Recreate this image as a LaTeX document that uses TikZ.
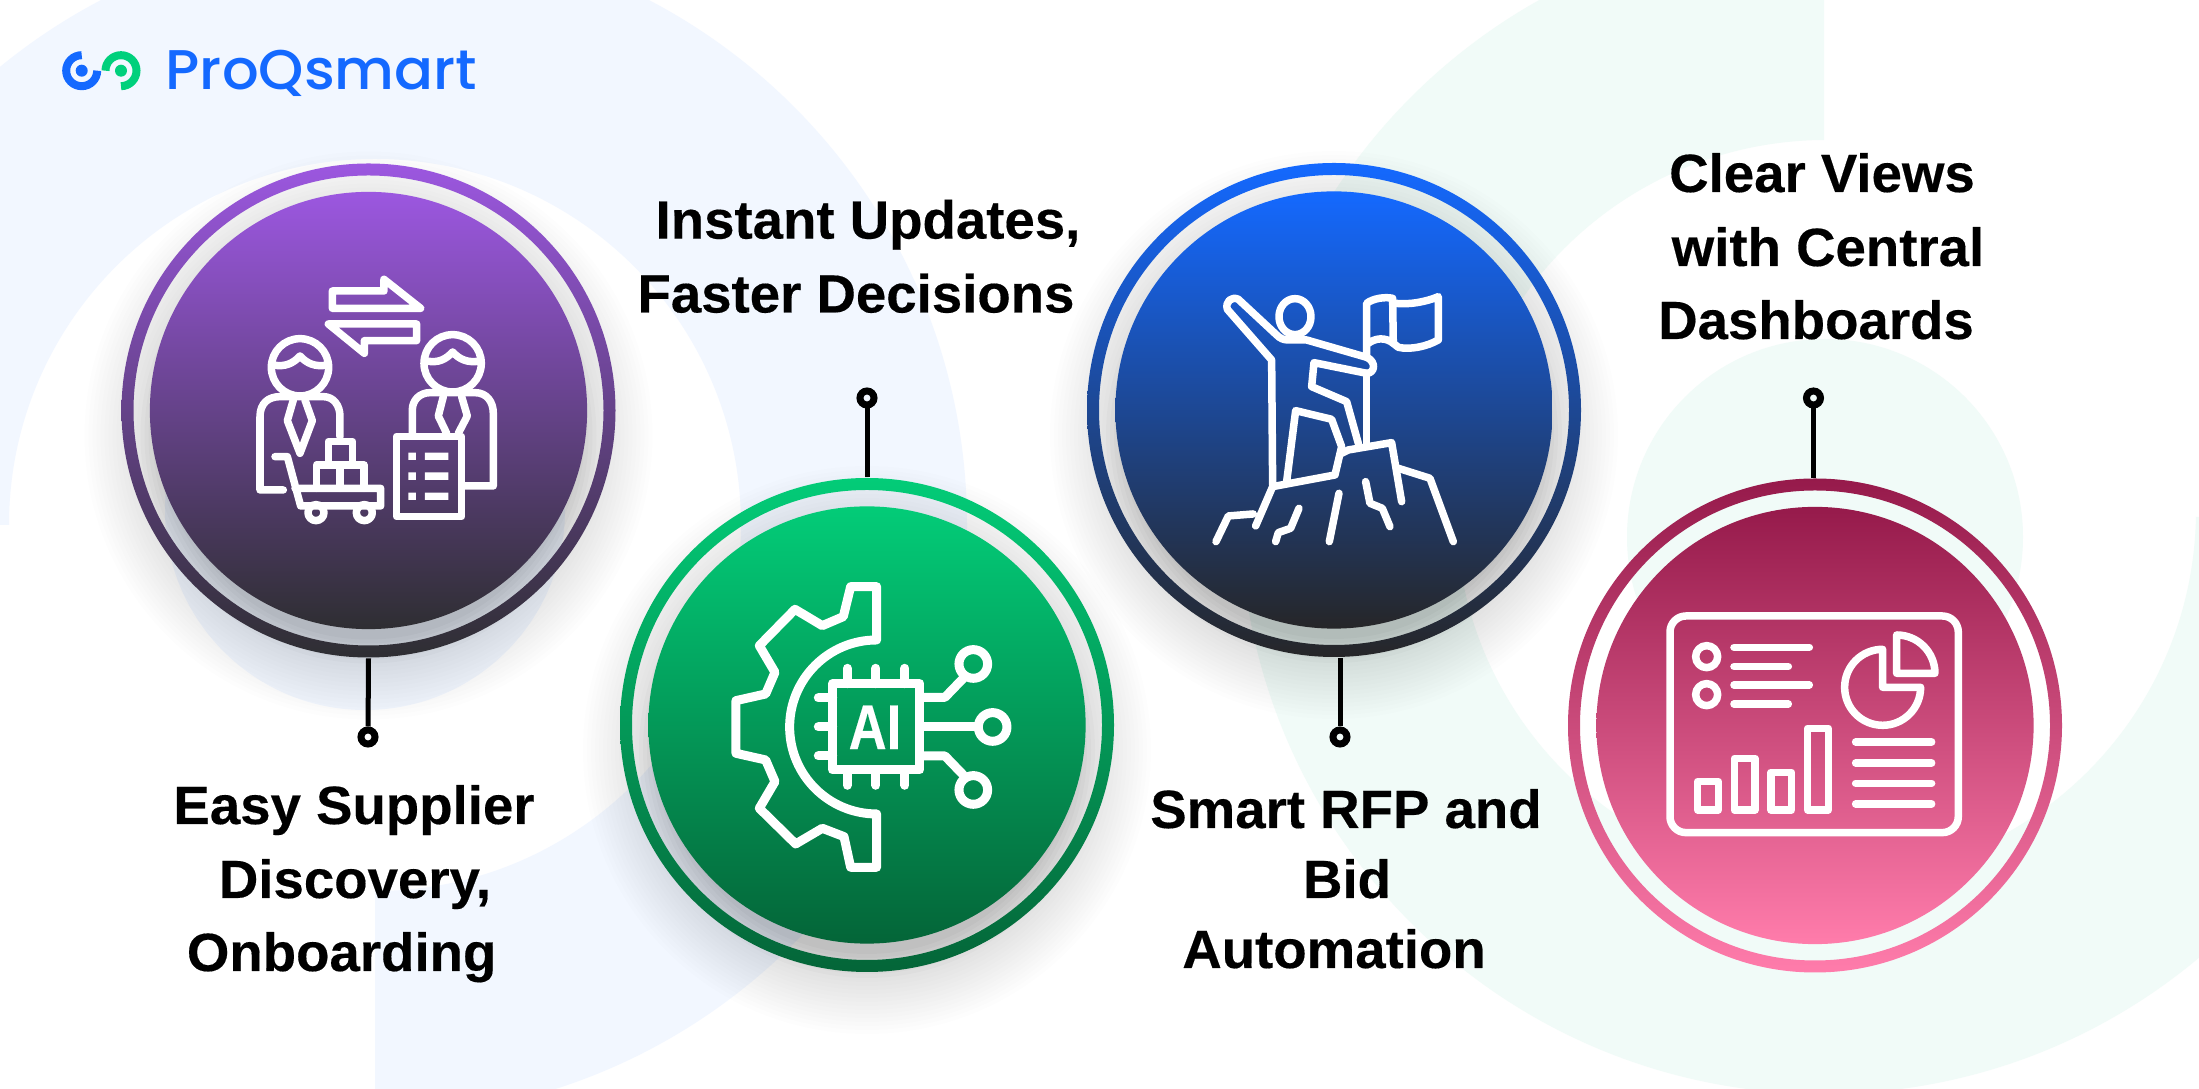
\documentclass[tikz,border=0pt]{standalone}
\usepackage{fontspec}
\setmainfont[BoldFeatures={FakeStretch=1.015,FakeBold=0.3}]{Liberation Sans}
\newfontfamily\logofont[FakeStretch=1.03]{Poppins Medium}
\begin{document}
\begin{tikzpicture}[x=0.01cm,y=-0.01cm]
    \definecolor{paleblue}{HTML}{F2F7FF}
    \definecolor{palegreen}{HTML}{F1FBF8}
    \definecolor{logoblue}{HTML}{1469FF}
    \definecolor{logogreen}{HTML}{00D07C}
    \tikzstyle{badge}=[circle,inner sep=0pt,minimum size=4.94cm]
    \tikzstyle{disc}=[circle,inner sep=0pt,minimum size=4.37cm]
    \tikzstyle{pin}=[circle,draw=black,line width=0.07cm,inner sep=0pt,minimum size=0.14cm]
    \tikzstyle{stem}=[black,line width=0.05cm]
    \tikzstyle{label}=[anchor=base,inner sep=0pt,font=\bfseries\fontsize{15.3}{18}\selectfont]
    \tikzstyle{icon}=[draw=white,line width=0.075cm,line join=round,line cap=round]
    \tikzstyle{iconfill}=[fill=white]
    \useasboundingbox (0,0) rectangle (2199,1089);
    \fill[white] (0,0) rectangle (2199,1089);
    % background rings
    \begin{scope}
      \clip (0,0) rectangle (2199,1089);
      \begin{scope}
        \clip (-300,-300) -- (1100,-300) -- (1100,1200) -- (375,1200) -- (375,525) -- (-300,525) -- cycle;
        \fill[paleblue,even odd rule] (375,525) circle (592) (375,525) circle (366);
      \end{scope}
      \fill[paleblue] (365,510) circle (200);
      \begin{scope}
        \clip (1100,-300) -- (1824,-300) -- (1824,517) -- (2500,517) -- (2500,1200) -- (1100,1200) -- cycle;
        \fill[palegreen,even odd rule] (1824,510) circle (584) (1826,510) circle (370);
      \end{scope}
      \fill[palegreen] (1825,537) circle (198);
    \end{scope}
    % shadows
    \foreach \cx/\cy in {368.5/410.5,867/725,1334/410}{
      \foreach \r in {204,208,...,228}{
        \fill[black,opacity=0.02] (\cx,\cy+25) circle (\r);
      }
      \foreach \r in {232,236,...,284}{
        \fill[black,opacity=0.008] (\cx,\cy+25) circle (\r);
      }
    }
    % circles
    \node[badge] (c1) at (368.5,410.5) {};
    \node[badge] (c2) at (867,725) {};
    \node[badge] (c3) at (1334,410) {};
    \node[badge] (c4) at (1815,725.5) {};
    \path[even odd rule,top color={rgb,255:red,156;green,87;blue,224},bottom color={rgb,255:red,46;green,46;blue,50}] (c1.center) circle (247) (c1.center) circle (235);
    \path[even odd rule,top color={rgb,255:red,3;green,204;blue,120},bottom color={rgb,255:red,4;green,101;blue,56}] (c2.center) circle (247) (c2.center) circle (235);
    \path[even odd rule,top color={rgb,255:red,20;green,105;blue,255},bottom color={rgb,255:red,38;green,38;blue,40}] (c3.center) circle (247) (c3.center) circle (235);
    \path[even odd rule,top color={rgb,255:red,150;green,26;blue,75},bottom color={rgb,255:red,255;green,124;blue,171}] (c4.center) circle (247) (c4.center) circle (235);
    \node[disc,top color={rgb,255:red,156;green,87;blue,224},bottom color={rgb,255:red,46;green,46;blue,50}] (d1) at (c1) {};
    \node[disc,top color={rgb,255:red,3;green,204;blue,120},bottom color={rgb,255:red,4;green,101;blue,56}] (d2) at (c2) {};
    \node[disc,top color={rgb,255:red,20;green,105;blue,255},bottom color={rgb,255:red,38;green,38;blue,40}] (d3) at (c3) {};
    \node[disc,top color={rgb,255:red,150;green,26;blue,75},bottom color={rgb,255:red,255;green,124;blue,171}] (d4) at (c4) {};
    % pins and stems
    \node[pin] (p1) at (368,737) {};
    \node[pin] (p2) at (867,398) {};
    \node[pin] (p3) at (1340,737) {};
    \node[pin] (p4) at (1813.5,398) {};
    \draw[stem] (c1.south) -- (p1);
    \draw[stem] (c2.north) -- (p2);
    \draw[stem] (c3.south -| p3) -- (p3);
    \draw[stem] (c4.north -| p4) -- (p4);
    % suppliers icon
    \begin{scope}[shift={(230,260)},scale=0.3333]
      \draw[icon] (307,93) -- (462,93) -- (462,58) -- (572,145) -- (307,145) -- cycle;
      \draw[icon] (560,192) -- (295,192) -- (403,280) -- (403,242) -- (560,242) -- cycle;
      \draw[icon] (210,322) circle (86);
      \draw[icon] (130,315) .. controls (165,322) and (190,310) .. (210,288) .. controls (230,310) and (255,322) .. (292,315);
      \draw[icon] (160,690) -- (90,690) -- (90,470) .. controls (90,430) and (115,410) .. (150,410) -- (280,410) .. controls (310,410) and (330,435) .. (330,470) -- (330,530);
      \draw[icon] (190,420) -- (172,482) -- (210,580) -- (247,482) -- (225,420);
      \draw[icon] (668,310) circle (86);
      \draw[icon] (590,303) .. controls (625,310) and (648,298) .. (668,276) .. controls (688,298) and (713,310) .. (750,303);
      \draw[icon] (547,520) -- (547,450) .. controls (547,420) and (570,398) .. (600,398) -- (735,398) .. controls (770,398) and (790,425) .. (790,460) -- (790,678) -- (700,678);
      \draw[icon] (640,410) -- (625,468) -- (650,520);
      \draw[icon] (695,410) -- (712,468) -- (685,520);
      \draw[icon] (500,529) rectangle (695,770);
      \fill[iconfill] (535,578) rectangle (558,600) (585,578) rectangle (655,600);
      \fill[iconfill] (535,637) rectangle (558,660) (585,637) rectangle (655,660);
      \fill[iconfill] (535,698) rectangle (558,720) (585,698) rectangle (655,720);
      \draw[icon] (135,590) -- (172,590) -- (212,738) -- (452,738) -- (452,685) -- (195,685);
      \draw[icon] (258,758) circle (24);
      \draw[icon] (403,758) circle (24);
      \draw[icon] (260,685) -- (260,615) -- (402,615) -- (402,685);
      \draw[icon] (330,615) -- (330,685);
      \draw[icon] (295,615) -- (295,545) -- (368,545) -- (368,615);
    \end{scope}
    % ai icon
    \begin{scope}[shift={(620,470)},scale=0.3333]
      \tikzstyle{icon}=[draw=white,line width=0.09cm,line join=round,line cap=round]
      \draw[icon] (770,350) -- (692,350) -- (670,440) -- (607,467) -- (525,418) -- (418,527) -- (465,607) -- (437,672) -- (348,692) -- (348,850) -- (437,870) -- (465,935) -- (418,1015) -- (527,1122) -- (607,1075) -- (672,1100) -- (692,1192) -- (770,1192) -- (770,1032) arc[start angle=90,end angle=270,radius=261] -- cycle;
      \draw[icon] (638,641) rectangle (900,900);
      \foreach \px in {682,768,855}{
        \draw[icon] (\px,595) -- (\px,641);
        \draw[icon] (\px,900) -- (\px,946);
      }
      \foreach \py in {684,771,858}{
        \draw[icon] (595,\py) -- (638,\py);
      }
      \draw[icon] (900,682) -- (975,682) -- (1030,625);
      \draw[icon] (1060,582) circle (43);
      \draw[icon] (900,771) -- (1075,771);
      \draw[icon] (1118,771) circle (43);
      \draw[icon] (900,858) -- (975,858) -- (1030,915);
      \draw[icon] (1060,960) circle (43);
      \node[white,inner sep=0pt,font=\bfseries\fontsize{18}{20}\selectfont] (ai) at (765,772) {\scalebox{0.82}[1]{AI}};
    \end{scope}
    % summit icon
    \begin{scope}[shift={(1090,160)},scale=0.3333]
      \draw[icon] (548,975) -- (545,600) -- (412,448) .. controls (405,425) and (425,408) .. (445,418) -- (560,525) .. controls (570,535) and (580,540) .. (595,540) -- (650,540) -- (830,592) .. controls (860,605) and (855,640) .. (830,640) -- (672,608) -- (665,680) -- (770,725) -- (805,850);
      \draw[icon] (615,470) ellipse (48 and 54);
      \draw[icon] (590,965) -- (617,752) -- (725,778) -- (755,860) -- (735,945) -- (548,980) -- (497,1098);
      \draw[icon] (755,880) -- (775,870) -- (905,848) -- (935,1025);
      \draw[icon] (490,1062) -- (415,1068) -- (378,1145);
      \draw[icon] (925,925) -- (1020,955) -- (1090,1145);
      \draw[icon] (830,850) -- (830,640);
      \draw[icon] (830,592) -- (830,430) .. controls (850,415) and (885,410) .. (908,415) -- (910,550) .. controls (885,530) and (855,535) .. (835,550);
      \draw[icon] (915,430) .. controls (960,435) and (1010,425) .. (1045,410) -- (1045,540) .. controls (1010,560) and (960,570) .. (925,562) -- (910,550);
      \draw[icon] (627,1045) -- (602,1105) -- (565,1118) -- (557,1145);
      \draw[icon] (747,1000) -- (718,1145);
      \draw[icon] (827,965) -- (840,1030) -- (877,1045) -- (900,1100);
    \end{scope}
    % dashboard icon
    \begin{scope}[shift={(1570,480)},scale=0.3333]
      \draw[icon,rounded corners=0.16cm] (300,408) rectangle (1165,1058);
      \draw[icon] (410,530) circle (33);
      \draw[icon] (410,644) circle (33);
      \draw[icon] (492,502) -- (718,502);
      \draw[icon] (492,560) -- (655,560);
      \draw[icon] (492,615) -- (718,615);
      \draw[icon] (492,672) -- (655,672);
      \draw[icon] (938,622) -- (938,508) arc[start angle=270,end angle=0,radius=114] -- cycle;
      \draw[icon] (980,580) -- (980,465) arc[start angle=-90,end angle=0,radius=115] -- cycle;
      \draw[icon] (383,905) rectangle (445,990);
      \draw[icon] (493,835) rectangle (555,990);
      \draw[icon] (603,877) rectangle (665,990);
      \draw[icon] (713,745) rectangle (775,990);
      \draw[icon] (857,786) -- (1085,786);
      \draw[icon] (857,849) -- (1085,849);
      \draw[icon] (857,910) -- (1085,910);
      \draw[icon] (857,972) -- (1085,972);
    \end{scope}
    % logo
    \draw[logoblue,line width=0.08cm] (81.7,55.2) arc[start angle=-90,end angle=-360,radius=15.5];
    \fill[logoblue] (81.7,70.7) circle (6);
    \draw[logogreen,line width=0.08cm] (121,86.2) arc[start angle=90,end angle=-180,radius=15.5];
    \fill[logogreen] (121,70.7) circle (6);
    \node[anchor=base west,inner sep=0pt,text=logoblue,font=\logofont\fontsize{15.9}{18}\selectfont] (logo) at (165,90) {ProQsmart};
    % labels
    \node[label] (l1a) at (354,824) {Easy Supplier};
    \node[label] (l1b) at (355,898) {Discovery,};
    \node[label] (l1c) at (341.6,971) {Onboarding};
    \node[label] (l2a) at (868,238.6) {Instant Updates,};
    \node[label] (l2b) at (856,312.5) {Faster Decisions};
    \node[label] (l3a) at (1346,828) {Smart RFP and};
    \node[label] (l3b) at (1347,898) {Bid};
    \node[label] (l3c) at (1334,968) {Automation};
    \node[label] (l4a) at (1822,192) {Clear Views};
    \node[label] (l4b) at (1828,266) {with Central};
    \node[label] (l4c) at (1816,339) {Dashboards};
\end{tikzpicture}
\end{document}
